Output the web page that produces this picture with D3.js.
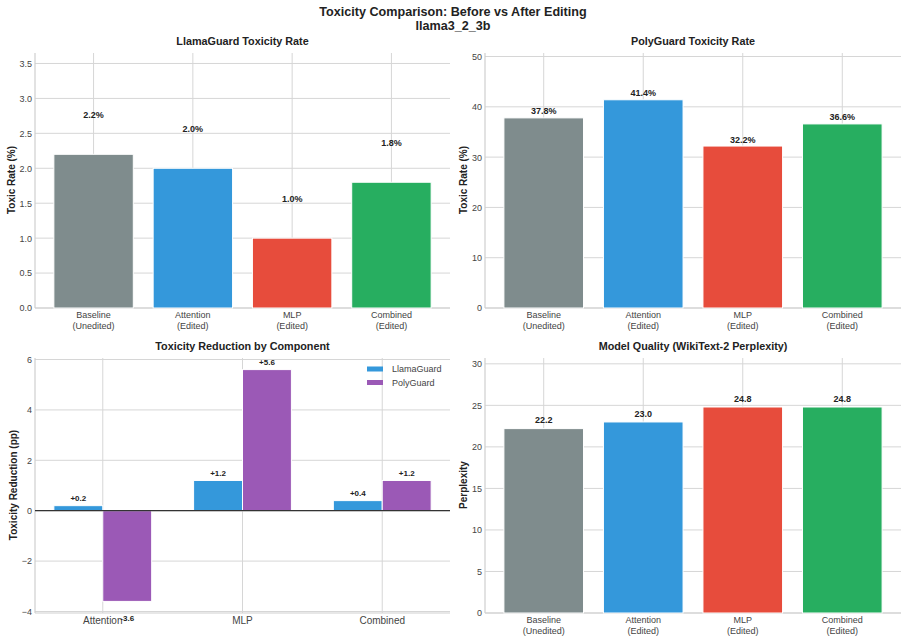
<!DOCTYPE html>
<html>
<head>
<meta charset="utf-8">
<script src="https://cdn.jsdelivr.net/npm/d3@7"></script>
<style>
  body { margin: 0; background: #fff; }
  svg { font-family: "Liberation Sans", Arial, sans-serif; }
  .tick text { fill: #444; }
</style>
</head>
<body>
<div id="chart"></div>
<script>
// data
var categories = ["Baseline\n(Unedited)", "Attention\n(Edited)", "MLP\n(Edited)", "Combined\n(Edited)"];
var llamaRates = [2.2, 2.0, 1.0, 1.8];
var polyRates = [37.8, 41.4, 32.2, 36.6];
var perplexity = [22.2, 23.0, 24.8, 24.8];
var components = ["Attention", "MLP", "Combined"];
var llamaReduction = [0.2, 1.2, 0.4];
var polyReduction = [-3.6, 5.6, 1.2];
var llamaTicks = [0, 0.5, 1.0, 1.5, 2.0, 2.5, 3.0, 3.5];
var polyTicks = [0, 10, 20, 30, 40, 50];
var reductionTicks = [-4, -2, 0, 2, 4, 6];
var pplTicks = [0, 5, 10, 15, 20, 25, 30];

var barColors = ["#7f8c8d", "#3498db", "#e74c3c", "#27ae60"];
var gridColor = "#d6d6d6";

var svg = d3.select("#chart").append("svg")
  .attr("width", 907).attr("height", 641);

svg.append("text").attr("x", 453).attr("y", 16)
  .attr("text-anchor", "middle").attr("font-weight", "bold")
  .attr("font-size", "12.6px").attr("fill", "#222")
  .text("Toxicity Comparison: Before vs After Editing");
svg.append("text").attr("x", 453).attr("y", 30)
  .attr("text-anchor", "middle").attr("font-weight", "bold")
  .attr("font-size", "12.6px").attr("fill", "#222")
  .text("llama3_2_3b");

function panel(opt) {
  var g = svg.append("g");
  var x = d3.scaleLinear().domain(opt.xdom).range([opt.left, opt.right]);
  var y = d3.scaleLinear().domain(opt.ydom).range([opt.bottom, opt.top]);

  // grid
  g.selectAll(".hgrid").data(opt.yticks).enter().append("line")
    .attr("x1", opt.left).attr("x2", opt.right)
    .attr("y1", function(d) { return y(d); }).attr("y2", function(d) { return y(d); })
    .attr("stroke", gridColor).attr("stroke-width", 1);
  g.selectAll(".vgrid").data(opt.xlabels).enter().append("line")
    .attr("x1", function(d, i) { return x(i); }).attr("x2", function(d, i) { return x(i); })
    .attr("y1", opt.top).attr("y2", opt.bottom)
    .attr("stroke", gridColor).attr("stroke-width", 1);

  // spines
  g.append("line").attr("x1", opt.left).attr("x2", opt.left)
    .attr("y1", opt.top).attr("y2", opt.bottom).attr("stroke", "#cfcfcf").attr("stroke-width", 1.2);
  g.append("line").attr("x1", opt.left).attr("x2", opt.right)
    .attr("y1", opt.bottom).attr("y2", opt.bottom).attr("stroke", "#cfcfcf").attr("stroke-width", 1.2);

  // y axis
  var yAxis = d3.axisLeft(y).tickValues(opt.yticks).tickSize(0).tickPadding(3)
    .tickFormat(opt.yfmt);
  var ya = g.append("g").attr("transform", "translate(" + opt.left + ",0)").call(yAxis);
  ya.select(".domain").remove();
  ya.selectAll("text").attr("font-size", "9px").attr("font-family", "Liberation Sans, Arial, sans-serif");

  // x labels
  opt.xlabels.forEach(function(lab, i) {
    var lines = lab.split("\n");
    var t = g.append("text").attr("text-anchor", "middle")
      .attr("font-size", opt.xfont).attr("fill", "#444");
    lines.forEach(function(l, j) {
      t.append("tspan").attr("x", x(i)).attr("y", opt.bottom + opt.xoff + j * 10.5).text(l);
    });
  });

  // title
  g.append("text").attr("x", (opt.left + opt.right) / 2).attr("y", opt.top - 8)
    .attr("text-anchor", "middle").attr("font-weight", "bold")
    .attr("font-size", "10.8px").attr("fill", "#222").text(opt.title);

  // y label
  g.append("text")
    .attr("transform", "translate(" + opt.ylx + "," + opt.lyc + ") rotate(-90)")
    .attr("text-anchor", "middle").attr("dy", "0.35em").attr("font-weight", "bold")
    .attr("font-size", "10px").attr("fill", "#222").text(opt.ylabel);

  return { g: g, x: x, y: y };
}

function simpleBars(p, values, offset, fmt) {
  p.g.selectAll(".bar").data(values).enter().append("rect")
    .attr("x", function(d, i) { return p.x(i - 0.4); })
    .attr("width", function(d, i) { return p.x(i + 0.4) - p.x(i - 0.4); })
    .attr("y", function(d) { return p.y(d); })
    .attr("height", function(d) { return p.y(0) - p.y(d); })
    .attr("fill", function(d, i) { return barColors[i]; })
    .attr("stroke", "#fff").attr("stroke-width", 1);
  p.g.selectAll(".lbl").data(values).enter().append("text")
    .attr("x", function(d, i) { return p.x(i); })
    .attr("y", function(d) { return p.y(d + offset) - 1; })
    .attr("text-anchor", "middle").attr("font-weight", "bold")
    .attr("font-size", "9px").attr("fill", "#222")
    .text(fmt);
}

// panel 1
var p1 = panel({
  left: 35, right: 450, top: 53, bottom: 308,
  xdom: [-0.59, 3.59], ydom: [0, 3.65], yticks: llamaTicks,
  yfmt: d3.format(".1f"), xlabels: categories, xfont: "9px", xoff: 10,
  title: "LlamaGuard Toxicity Rate", ylabel: "Toxic Rate (%)", ylx: 11, lyc: 180
});
simpleBars(p1, llamaRates, 0.5, function(d) { return d.toFixed(1) + "%"; });

// panel 2
var p2 = panel({
  left: 485, right: 901, top: 53, bottom: 308,
  xdom: [-0.59, 3.59], ydom: [0, 50.7], yticks: polyTicks,
  yfmt: d3.format("d"), xlabels: categories, xfont: "9px", xoff: 10,
  title: "PolyGuard Toxicity Rate", ylabel: "Toxic Rate (%)", ylx: 463, lyc: 180
});
simpleBars(p2, polyRates, 0.5, function(d) { return d.toFixed(1) + "%"; });

// panel 4
var p4 = panel({
  left: 485, right: 901, top: 358, bottom: 613,
  xdom: [-0.59, 3.59], ydom: [0, 30.7], yticks: pplTicks,
  yfmt: d3.format("d"), xlabels: categories, xfont: "9px", xoff: 10,
  title: "Model Quality (WikiText-2 Perplexity)", ylabel: "Perplexity", ylx: 463, lyc: 485
});
simpleBars(p4, perplexity, 0.5, function(d) { return d.toFixed(1); });

// panel 3
var p3 = panel({
  left: 35, right: 450, top: 358, bottom: 613,
  xdom: [-0.485, 2.485], ydom: [-4.06, 6.06], yticks: reductionTicks,
  yfmt: function(d) { return d < 0 ? "\u2212" + Math.abs(d) : d; },
  xlabels: components, xfont: "10px", xoff: 11,
  title: "Toxicity Reduction by Component", ylabel: "Toxicity Reduction (pp)", ylx: 13, lyc: 485
});
var bw = 0.35;
var groups = [
  { name: "LlamaGuard", values: llamaReduction, color: "#3498db", shift: -bw / 2 },
  { name: "PolyGuard", values: polyReduction, color: "#9b59b6", shift: bw / 2 }
];
groups.forEach(function(s) {
  p3.g.selectAll(".b" + s.name).data(s.values).enter().append("rect")
    .attr("x", function(d, i) { return p3.x(i + s.shift - bw / 2); })
    .attr("width", function(d, i) { return p3.x(i + s.shift + bw / 2) - p3.x(i + s.shift - bw / 2); })
    .attr("y", function(d) { return p3.y(Math.max(d, 0)); })
    .attr("height", function(d) { return Math.abs(p3.y(d) - p3.y(0)); })
    .attr("fill", s.color).attr("stroke", "#fff").attr("stroke-width", 1);
  p3.g.selectAll(".t" + s.name).data(s.values).enter().append("text")
    .attr("x", function(d, i) { return p3.x(i + s.shift); })
    .attr("y", function(d) { return d >= 0 ? p3.y(d + 0.15) - 1 : p3.y(d - 0.5) + 7; })
    .attr("text-anchor", "middle").attr("font-weight", "bold")
    .attr("font-size", "8px").attr("fill", "#222")
    .text(function(d) { return d >= 0 ? "+" + d.toFixed(1) : d.toFixed(1); });
});
p3.g.append("line").attr("x1", 35).attr("x2", 450)
  .attr("y1", p3.y(0)).attr("y2", p3.y(0))
  .attr("stroke", "#333").attr("stroke-width", 1.2);

// legend
var legend = p3.g.selectAll(".legend").data(groups).enter().append("g")
  .attr("transform", function(d, i) { return "translate(367," + (369 + i * 13.5) + ")"; });
legend.append("rect").attr("x", 0).attr("y", -2.5).attr("width", 16).attr("height", 5)
  .attr("fill", function(d) { return d.color; });
legend.append("text").attr("x", 25).attr("y", 0).attr("dy", "0.35em")
  .attr("font-size", "9px").attr("fill", "#444")
  .text(function(d) { return d.name; });
</script>
</body>
</html>
